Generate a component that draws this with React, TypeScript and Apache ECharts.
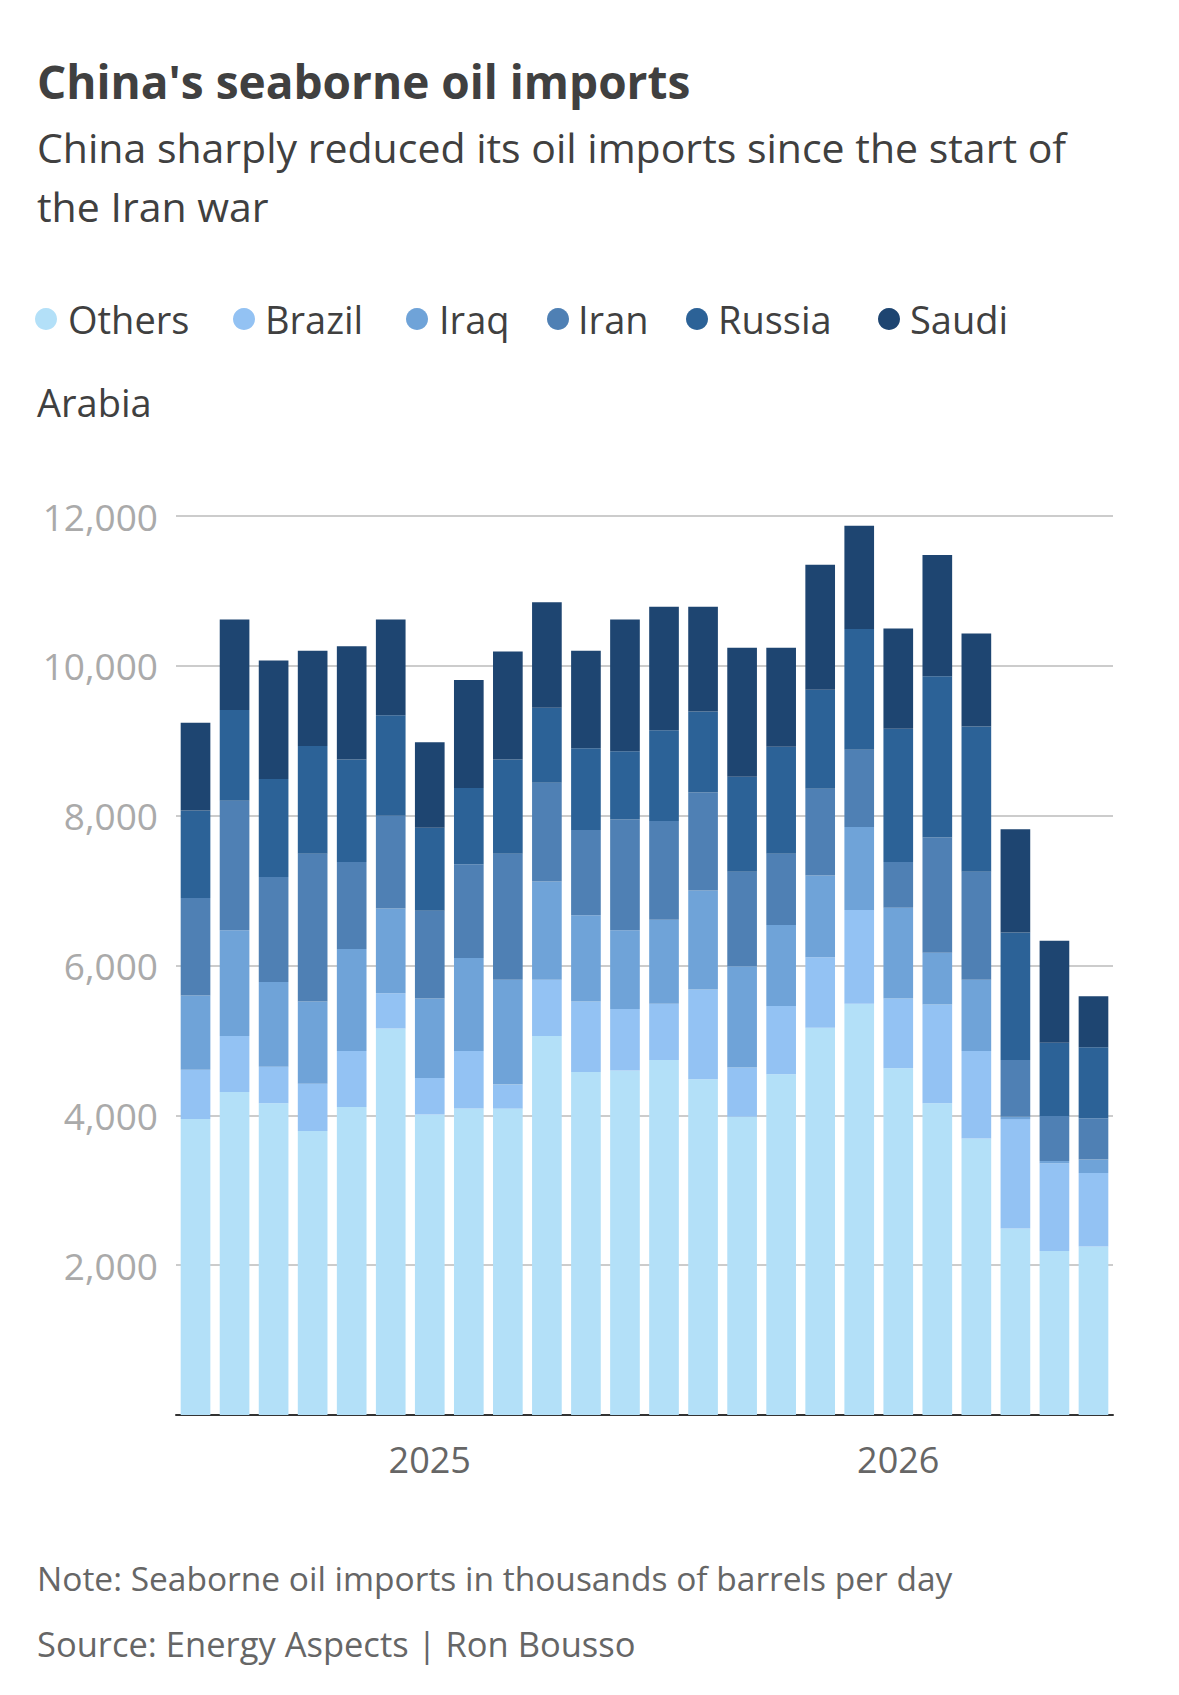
import React, { useEffect, useRef } from "react";
import * as echarts from "echarts";

const months = ["2024-07","2024-08","2024-09","2024-10","2024-11","2024-12","2025-01","2025-02","2025-03","2025-04","2025-05","2025-06","2025-07","2025-08","2025-09","2025-10","2025-11","2025-12","2026-01","2026-02","2026-03","2026-04","2026-05","2026-06"];
const seriesNames = ["Others","Brazil","Iraq","Iran","Russia","Saudi Arabia"];
const colors = ["#b3e0f8","#93c2f3","#6fa3d8","#4f80b4","#2c6297","#1e4571"];
// cumulative tops (thousand bpd)
const cumulative: number[][] = [
  [3950,4610,5600,6900,8070,9240],
  [4310,5060,6470,8200,9410,10620],
  [4160,4650,5780,7180,8490,10070],
  [3790,4420,5520,7490,8930,10200],
  [4110,4860,6220,7380,8750,10260],
  [5160,5630,6760,8000,9340,10620],
  [4010,4500,5560,6730,7840,8980],
  [4090,4860,6100,7350,8370,9810],
  [4090,4410,5810,7490,8750,10190],
  [5060,5810,7120,8440,9440,10850],
  [4580,5520,6670,7810,8900,10200],
  [4600,5420,6470,7950,8860,10620],
  [4740,5490,6610,7930,9140,10790],
  [4480,5680,7000,8310,9390,10790],
  [3980,4640,5990,7250,8520,10240],
  [4550,5460,6540,7490,8920,10240],
  [5170,6110,7200,8360,9680,11350],
  [5490,6740,7850,8880,10490,11870],
  [4630,5560,6770,7380,9160,10500],
  [4160,5480,6170,7710,9860,11480],
  [3690,4860,5810,7250,9190,10430],
  [2490,3950,3980,4740,6440,7820],
  [2190,3360,3390,3990,4970,6330],
  [2250,3230,3410,3960,4910,5590],
];
const legendLabels = ["Others","Brazil","Iraq","Iran","Russia","Saudi"];

export default function App() {
  const ref = useRef<HTMLDivElement>(null);
  useEffect(() => {
    const chart = echarts.init(ref.current!, undefined, { renderer: "svg" });
    const font = "'Open Sans', 'Noto Sans', sans-serif";
    const series = seriesNames.map((name, i) => ({
      name, type: "bar", stack: "all", barCategoryGap: "24%",
      itemStyle: { color: colors[i] },
      data: cumulative.map(r => r[i] - (i > 0 ? r[i - 1] : 0)),
    }));
    const legendItems: any[] = [];
    const cx = [46, 244, 417, 558, 697, 889];
    const tx = [68, 265, 439, 578, 718, 910];
    legendLabels.forEach((t, i) => {
      legendItems.push({ type: "circle", shape: { cx: cx[i], cy: 319, r: 11 }, style: { fill: colors[i] } });
      legendItems.push({ type: "text", x: tx[i], y: 319, style: { text: t, fill: "#404040", font: `38px ${font}`, verticalAlign: "middle" } });
    });
    legendItems.push({ type: "text", x: 37, y: 402, style: { text: "Arabia", fill: "#404040", font: `38px ${font}`, verticalAlign: "middle" } });
    chart.setOption({
      animation: false,
      textStyle: { fontFamily: font },
      grid: { left: 176, right: 66, top: 516, bottom: 280 },
      xAxis: {
        type: "category", data: months,
        axisTick: { show: false },
        axisLine: { lineStyle: { color: "#333", width: 2 } },
        axisLabel: {
          interval: 0, color: "#666", fontSize: 36, margin: 26,
          formatter: (v: string) => (v.endsWith("-01") ? v.slice(0, 4) : ""),
        },
      },
      yAxis: {
        type: "value", min: 0, max: 12000, interval: 2000,
        axisLabel: { color: "#aaa", fontSize: 37, margin: 18,
          formatter: (v: number) => (v === 0 ? "" : v.toLocaleString("en-US")) },
        splitLine: { lineStyle: { color: "#ccc", width: 2 } },
      },
      series,
      graphic: [
        { type: "text", x: 37, y: 81, style: { text: "China's seaborne oil imports", fill: "#404040", font: `bold 46px ${font}`, verticalAlign: "middle" } },
        { type: "text", x: 37, y: 147, style: { text: "China sharply reduced its oil imports since the start of", fill: "#404040", font: `41px ${font}`, verticalAlign: "middle" } },
        { type: "text", x: 37, y: 206, style: { text: "the Iran war", fill: "#404040", font: `41px ${font}`, verticalAlign: "middle" } },
        ...legendItems,
        { type: "text", x: 37, y: 1578, style: { text: "Note: Seaborne oil imports in thousands of barrels per day", fill: "#666", font: `33.5px ${font}`, verticalAlign: "middle" } },
        { type: "text", x: 37, y: 1643, style: { text: "Source: Energy Aspects | Ron Bousso", fill: "#666", font: `34.5px ${font}`, verticalAlign: "middle" } },
      ],
    });
    return () => chart.dispose();
  }, []);
  return <div ref={ref} style={{ position: "absolute", left: 0, top: 0, width: 1179, height: 1695, background: "#fff" }} />;
}
